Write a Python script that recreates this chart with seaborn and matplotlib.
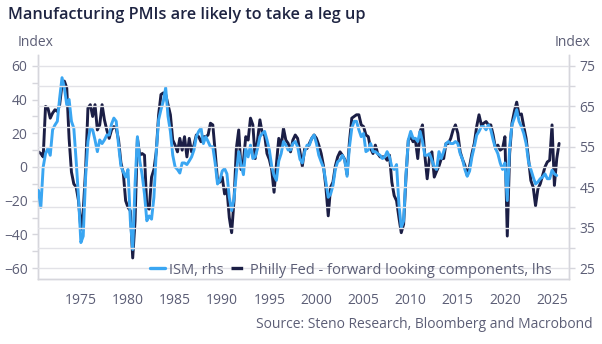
import numpy as np
import pandas as pd
import matplotlib
matplotlib.use("Agg")
import matplotlib.pyplot as plt
from matplotlib.lines import Line2D
import seaborn as sns

# ---------------- data (quarterly) ----------------
start_year = 1970.5  # first observation, quarterly steps

# Philly Fed - forward looking components (lhs, index)
philly = [
    9, 8,                      # 1970 H2
    6, 36, 35, 29,             # 1971
    32, 34, 33, 37,            # 1972
    49, 51, 47, 17,            # 1973
    -3, -10, -12, -20,         # 1974
    -37, -26, -2, 35,          # 1975
    37, 30, 37, 22,            # 1976
    25, 37, 28, 22,            # 1977
    17, 22, 24, 23,            # 1978
    16, 2.5, -3.5, -20,        # 1979
    -24, -26, -54, -32,        # 1980
    17, 7, 8, 7,               # 1981
    -24, -25, -6, -1.5,        # 1982
    9, 31, 43, 44,             # 1983
    43, 37, 31, 16,            # 1984
    13, 9, 17, 10,             # 1985
    18, 6, 17, 9,              # 1986
    13, 19, 18, 15,            # 1987
    18, 18, 19, 26,            # 1988
    25, 9, -8, -9,             # 1989
    -6, -16, -13, -30,         # 1990
    -39, -20, 11, 22,          # 1991
    -1.5, 3.5, 18, 16,         # 1992
    29, 25, 5, 16,             # 1993
    28, 20, 19, 8,             # 1994
    4.5, -1.5, -15, 1.5,       # 1995
    17, 12, 23, 16,            # 1996
    14, 9, 16, 19,             # 1997
    17, 9, 0.5, 11,            # 1998
    11, 14, 17, 19,            # 1999
    17, 13, 8, 0.5,            # 2000
    -12, -29, -12, -9,         # 2001
    0.5, 6, 9, 7,              # 2002
    4.5, -4.5, 15, 29,         # 2003
    30, 31, 31, 25,            # 2004
    24, 19, 18, 11,            # 2005
    8, 13, 8, 6,               # 2006
    6, 6, 4, 7,                # 2007
    -9, -17, -20, -30,         # 2008
    -39, -34, -6, 16,          # 2009
    18, 15, 16, 5,             # 2010
    21, 25, 7, -7,             # 2011
    6, 9, -6, -2.5,            # 2012
    0.5, 5, 5, 14,             # 2013
    14, 17, 22, 25,            # 2014
    20, 9, 4.5, 1,             # 2015
    -5, 0.5, 8, 14,            # 2016
    24, 31, 25, 26,            # 2017
    27, 25, 25, 19,            # 2018
    11, 13, 10, 11,            # 2019
    18, -41, 8, 26,            # 2020
    33, 38.5, 31, 31.5,        # 2021
    24, 17, 5, -8,             # 2022
    -12, -23, -13, -10,        # 2023
    -5, 0, 3, 4,               # 2024
    25, -11, 5, 14,            # 2025
]

# ISM manufacturing (rhs, index)
ism = [
    44.2, 40.0,                # 1970 H2
    50.0, 53.3, 54.6, 52.9,    # 1971
    59.2, 60.4, 61.3, 67.1,    # 1972
    72.1, 69.6, 65.4, 66.7,    # 1973
    61.3, 59.6, 51.5, 42.5,    # 1974
    31.3, 32.9, 47.5, 56.3,    # 1975
    59.6, 59.2, 56.7, 53.8,    # 1976
    56.7, 55.8, 56.7, 57.9,    # 1977
    57.9, 60.6, 62.1, 61.3,    # 1978
    55.4, 50.2, 48.8, 47.5,    # 1979
    49.4, 36.7, 29.6, 45.8,    # 1980
    57.5, 51.5, 48.1, 43.3,    # 1981
    36.7, 37.9, 37.1, 42.5,    # 1982
    53.8, 61.7, 64.2, 66.3,    # 1983
    69.6, 62.5, 58.8, 52.9,    # 1984
    50.0, 49.4, 48.5, 51.0,    # 1985
    51.0, 50.6, 51.5, 52.5,    # 1986
    54.2, 57.5, 58.8, 59.6,    # 1987
    55.8, 57.5, 56.3, 55.0,    # 1988
    55.0, 51.0, 45.8, 46.7,    # 1989
    49.0, 49.6, 48.3, 42.5,    # 1990
    39.2, 42.1, 48.5, 53.8,    # 1991
    50.6, 48.1, 54.6, 52.5,    # 1992
    55.4, 52.1, 52.5, 54.6,    # 1993
    57.5, 58.3, 58.8, 56.7,    # 1994
    54.2, 50.2, 47.9, 46.7,    # 1995
    51.5, 53.3, 56.3, 55.4,    # 1996
    54.2, 54.2, 55.8, 56.3,    # 1997
    55.0, 51.9, 51.0, 53.8,    # 1998
    55.4, 55.4, 57.1, 57.9,    # 1999
    55.8, 52.9, 51.3, 49.8,    # 2000
    46.3, 42.5, 43.3, 45.4,    # 2001
    49.4, 51.3, 51.7, 52.9,    # 2002
    51.7, 47.7, 55.0, 59.6,    # 2003
    61.3, 61.3, 59.2, 57.5,    # 2004
    58.3, 53.8, 54.2, 55.8,    # 2005
    53.8, 53.8, 53.3, 52.9,    # 2006
    52.1, 52.5, 53.8, 52.5,    # 2007
    50.0, 49.4, 50.6, 40.8,    # 2008
    35.0, 36.7, 48.1, 56.7,    # 2009
    58.8, 57.1, 57.1, 56.3,    # 2010
    58.8, 56.3, 52.9, 52.9,    # 2011
    53.3, 51.7, 50.0, 49.4,    # 2012
    53.8, 52.1, 53.8, 55.8,    # 2013
    56.3, 55.8, 55.8, 56.3,    # 2014
    55.8, 53.3, 51.9, 49.4,    # 2015
    47.7, 49.0, 52.5, 55.0,    # 2016
    57.9, 58.8, 60.0, 60.0,    # 2017
    59.2, 60.4, 59.2, 56.7,    # 2018
    54.6, 53.3, 51.0, 49.4,    # 2019
    51.0, 41.7, 55.0, 60.4,    # 2020
    62.1, 64.2, 61.3, 60.0,    # 2021
    58.3, 55.8, 51.3, 49.4,    # 2022
    47.5, 45.8, 46.3, 47.1,    # 2023
    47.5, 48.3, 47.1, 47.1,    # 2024
    49.2, 48.3, 47.9,          # 2025
]

left_ticks = [-60, -40, -20, 0, 20, 40, 60]
right_ticks = [25, 35, 45, 55, 65, 75]
year_ticks = [1975, 1980, 1985, 1990, 1995, 2000, 2005, 2010, 2015, 2020, 2025]

title = "Manufacturing PMIs are likely to take a leg up"
source = "Source: Steno Research, Bloomberg and Macrobond"
ism_label = "ISM, rhs"
philly_label = "Philly Fed - forward looking components, lhs"

# ---------------- frames ----------------
philly_df = pd.DataFrame({"year": start_year + 0.25 * np.arange(len(philly)), "value": philly})
ism_df = pd.DataFrame({"year": start_year + 0.25 * np.arange(len(ism)), "value": ism})

# ---------------- style ----------------
sns.set_style("white")
plt.rcParams["font.family"] = ["Open Sans", "DejaVu Sans"]

NAVY = "#1b1e45"
BLUE = "#3aa6f2"
TXT = "#5c5e76"
GRID = "#e2e2e7"
SPINE = "#d6d6dc"

W, H = 602, 344
fig = plt.figure(figsize=(W / 100, H / 100), dpi=100)
ax = fig.add_axes([38 / W, 1 - 279 / H, (569 - 38) / W, (279 - 55) / H])
ax2 = ax.twinx()

sns.lineplot(data=philly_df, x="year", y="value", ax=ax, color=NAVY, linewidth=2.1)
sns.lineplot(data=ism_df, x="year", y="value", ax=ax2, color=BLUE, linewidth=2.1)

lo, hi = -66.5, 66.5
ax.set_ylim(lo, hi)
ax2.set_ylim(50 + lo * 5 / 12, 50 + hi * 5 / 12)
ax.set_xlim(1970.45, 2026.8)

ax.set_yticks(left_ticks)
ax.set_yticks(np.arange(-60, 61, 10), minor=True)
ax2.set_yticks(right_ticks)
ax2.set_yticks(np.arange(30, 75, 10), minor=True)
ax.set_xticks(year_ticks)

# grid from right axis (every 5)
ax.grid(False)
ax2.grid(False)
for v in np.arange(25, 76, 5):
    ax2.axhline(v, color=GRID, lw=1.0, zorder=0)
ax2.set_zorder(ax.get_zorder() + 1)
ax2.patch.set_visible(False)

for a in (ax, ax2):
    a.set_xlabel("")
    a.set_ylabel("")
    for s in a.spines.values():
        s.set_color(SPINE)
        s.set_linewidth(1.0)
    a.spines["top"].set_visible(False)

ax.tick_params(axis="both", which="both", direction="out", color=SPINE,
               labelcolor=TXT, labelsize=10, length=4, width=1)
ax.tick_params(axis="x", pad=6)
ax2.tick_params(axis="y", which="both", direction="out", color=SPINE,
                labelcolor=TXT, labelsize=10, length=4, width=1)

for ln in ax2.lines:
    ln.set_zorder(3)

# texts
fig.text(8 / W, 1 - 15 / H, title, ha="left", va="center", fontsize=11.7,
         fontweight="semibold", color="#1e2442")
fig.text(18 / W, 1 - 43 / H, "Index", ha="left", va="center", fontsize=10, color=TXT)
fig.text(590 / W, 1 - 43 / H, "Index", ha="right", va="center", fontsize=10, color=TXT)
fig.text(593 / W, 1 - 325 / H, source, ha="right", va="center", fontsize=10, color=TXT)

handles = [Line2D([], [], color=BLUE, lw=2.4),
           Line2D([], [], color=NAVY, lw=2.4, linestyle=(0, (3.5, 1)))]
leg = fig.legend(handles, [ism_label, philly_label], loc="center left",
                 bbox_to_anchor=(150 / W, 1 - 270 / H), ncol=2, frameon=False,
                 fontsize=10.5, handlelength=1.0, handletextpad=0.3,
                 columnspacing=0.5, borderaxespad=0, borderpad=0)
for t in leg.get_texts():
    t.set_color(TXT)
if ax.get_legend():
    ax.get_legend().remove()

fig.savefig("out.png", dpi=100)
